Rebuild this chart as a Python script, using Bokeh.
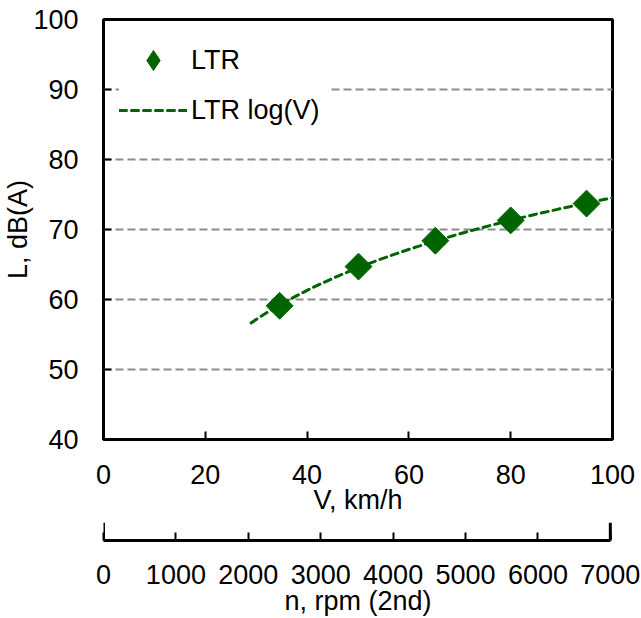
import numpy as np
from bokeh.plotting import figure
from bokeh.models import Range1d, FixedTicker, Legend, LegendItem
from bokeh.layouts import column
from bokeh.embed import file_html
from bokeh.resources import INLINE

# ---- data ----
v_kmh = [34.6, 50.1, 65.2, 80.0, 94.9]
l_dba = [59.1, 64.7, 68.4, 71.3, 73.7]
trend_start_v = 29.0
trend_end_v = 100.0

v_ticks = [0, 20, 40, 60, 80, 100]
l_ticks = [40, 50, 60, 70, 80, 90, 100]
rpm_ticks = [0, 1000, 2000, 3000, 4000, 5000, 6000, 7000]
rpm_ends = [0, 7000]

series_name = "LTR"
trend_name = "LTR log(V)"

# logarithmic trend line fitted to the measured points (like a spreadsheet trendline)
coef = np.polyfit(np.log(v_kmh), l_dba, 1)
trend_v = np.linspace(trend_start_v, trend_end_v, 60)
trend_l = np.polyval(coef, np.log(trend_v))

GREEN = "#006400"
FONT = "Liberation Sans"
FS = "27px"

p1 = figure(frame_width=509, frame_height=420,
            x_range=Range1d(0, 100), y_range=Range1d(40, 100),
            output_backend="svg", toolbar_location=None,
            min_border_left=102, min_border_right=30,
            min_border_top=19, min_border_bottom=83,
            background_fill_color="white", border_fill_color="white")
p1.outline_line_color = "black"
p1.outline_line_width = 3
p1.outline_line_alpha = 1

# diamond renderer (hidden under the rotated squares) used for the legend symbol
pts_key = p1.scatter(v_kmh, l_dba, marker="diamond", size=22,
                     fill_color=GREEN, line_color=GREEN)
pts = p1.scatter(v_kmh, l_dba, marker="square", size=19, angle=np.pi / 4,
                 fill_color=GREEN, line_color=GREEN)
trend = p1.line(trend_v, trend_l, line_color=GREEN, line_width=3,
                line_dash="7 5", line_cap="round")

p1.xgrid.visible = False
p1.ygrid.ticker = FixedTicker(ticks=l_ticks)
p1.ygrid.grid_line_color = "#8c8c8c"
p1.ygrid.grid_line_width = 2
p1.ygrid.grid_line_dash = "8 4"

for ax, ticks in ((p1.xaxis[0], v_ticks), (p1.yaxis[0], l_ticks)):
    ax.ticker = FixedTicker(ticks=ticks)
    ax.axis_line_color = None
    ax.major_tick_in = 8
    ax.major_tick_out = 0
    ax.major_tick_line_width = 2
    ax.major_tick_line_color = "black"
    ax.minor_tick_line_color = None
    ax.major_label_text_font = FONT
    ax.major_label_text_font_size = FS
    ax.major_label_text_color = "black"
    ax.axis_label_text_font = FONT
    ax.axis_label_text_font_size = FS
    ax.axis_label_text_font_style = "normal"
    ax.axis_label_text_color = "black"

p1.xaxis[0].axis_label = "V, km/h"
p1.xaxis[0].major_label_standoff = 25
p1.xaxis[0].axis_label_standoff = -2
p1.yaxis[0].axis_label = "L, dB(A)"
p1.yaxis[0].major_label_standoff = 25
p1.yaxis[0].axis_label_standoff = -3

legend = Legend(items=[LegendItem(label=series_name, renderers=[pts_key]),
                       LegendItem(label=trend_name, renderers=[trend])],
                location="top_left", margin=16, padding=0,
                glyph_width=68, glyph_height=50, label_height=50,
                spacing=0, label_standoff=4, label_width=140,
                label_text_font=FONT, label_text_font_size=FS,
                label_text_color="black",
                border_line_color=None, background_fill_color="white",
                background_fill_alpha=1)
p1.add_layout(legend)

# ---- secondary engine-speed axis ----
p2 = figure(frame_width=509, frame_height=18,
            x_range=Range1d(0, 7030), y_range=Range1d(0, 1),
            y_axis_location=None,
            output_backend="svg", toolbar_location=None,
            min_border_left=102, min_border_right=30,
            min_border_top=0, min_border_bottom=78,
            background_fill_color="white", border_fill_color="white")
p2.outline_line_color = None
p2.grid.visible = False
p2.segment(x0=rpm_ends, y0=[0, 0], x1=rpm_ends, y1=[1, 1],
           line_color="black", line_width=3)

ax2 = p2.xaxis[0]
ax2.ticker = FixedTicker(ticks=rpm_ticks)
ax2.bounds = (rpm_ticks[0], rpm_ticks[-1])
ax2.axis_line_width = 3
ax2.axis_line_color = "black"
ax2.major_tick_in = 8
ax2.major_tick_out = 0
ax2.major_tick_line_width = 2
ax2.minor_tick_line_color = None
ax2.major_label_text_font = FONT
ax2.major_label_text_font_size = FS
ax2.major_label_text_color = "black"
ax2.major_label_standoff = 24
ax2.axis_label = "n, rpm (2nd)"
ax2.axis_label_text_font = FONT
ax2.axis_label_text_font_size = FS
ax2.axis_label_text_font_style = "normal"
ax2.axis_label_text_color = "black"
ax2.axis_label_standoff = -1

layout = column(p1, p2, spacing=0)
open("out.html", "w").write(file_html(layout, INLINE, title="chart"))
